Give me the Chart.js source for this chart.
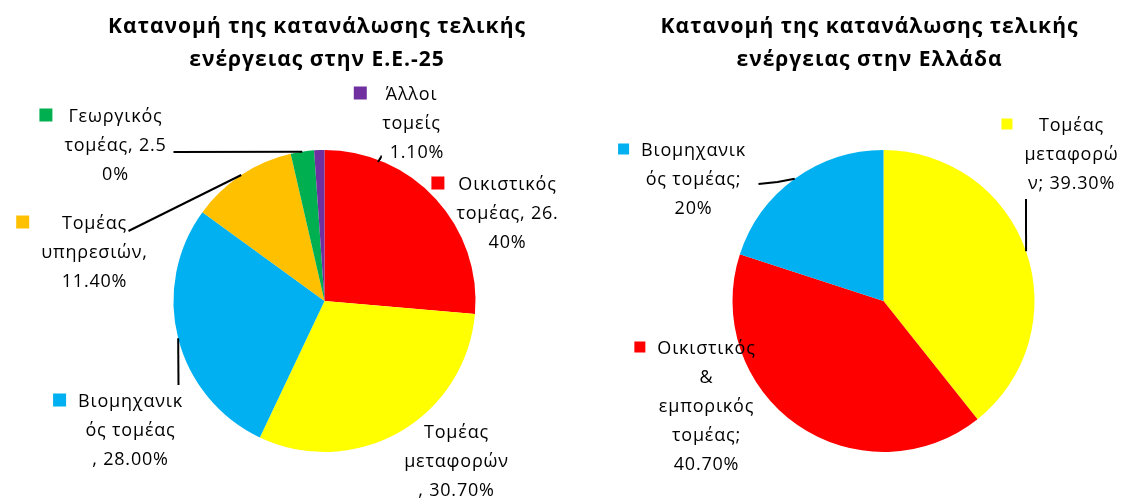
<!DOCTYPE html>
<html>
<head>
<meta charset="utf-8">
<script src="https://cdn.jsdelivr.net/npm/chart.js@4"></script>
<style>
  body { margin: 0; background: #fff; }
  .wrap { position: absolute; top: 0; width: 563px; height: 499px; }
</style>
</head>
<body>
<div class="wrap" style="left:0"><canvas id="chartEU" width="563" height="499"></canvas></div>
<div class="wrap" style="left:563px"><canvas id="chartGR" width="563" height="499"></canvas></div>
<script>
// ΕΕ-25
const categoriesEU = ['Οικιστικός τομέας', 'Τομέας μεταφορών', 'Βιομηχανικός τομέας', 'Τομέας υπηρεσιών', 'Γεωργικός τομέας', 'Άλλοι τομείς'];
const valuesEU = [26.4, 30.7, 28.0, 11.4, 2.5, 1.1];
const colorsEU = ['#FF0000', '#FFFF00', '#00B0F0', '#FFC000', '#00B050', '#7030A0'];
const labelsEU = [
  ['Οικιστικός', 'τομέας, 26.', '40%'],
  ['Τομέας', 'μεταφορών', ', 30.70%'],
  ['Βιομηχανικ', 'ός τομέας', ', 28.00%'],
  ['Τομέας', 'υπηρεσιών,', '11.40%'],
  ['Γεωργικός', 'τομέας, 2.5', '0%'],
  ['Άλλοι', 'τομείς', ', 1.10%']
];

// Ελλάδα
const categoriesGR = ['Τομέας μεταφορών', 'Οικιστικός & εμπορικός τομέας', 'Βιομηχανικός τομέας'];
const valuesGR = [39.3, 40.7, 20];
const colorsGR = ['#FFFF00', '#FF0000', '#00B0F0'];
const labelsGR = [
  ['Τομέας', 'μεταφορώ', 'ν; 39.30%'],
  ['Οικιστικός', '&', 'εμπορικός', 'τομέας;', '40.70%'],
  ['Βιομηχανικ', 'ός τομέας;', '20%']
];

const titleEU = ['Κατανομή της κατανάλωσης τελικής', 'ενέργειας στην Ε.Ε.-25'];
const titleGR = ['Κατανομή της κατανάλωσης τελικής', 'ενέργειας στην Ελλάδα'];

const FONT = '"Open Sans", "Noto Sans", sans-serif';

// label placement relative to the pie centre
const placeEU = [
  { dx: 183, dy: -116 },
  { dx: 132, dy: 132, square: false },
  { dx: -194, dy: 101, fromArc: true, leader: [[-146, 84]] },
  { dx: -230, dy: -77, fromArc: true, leader: [[-196, -70]] },
  { dx: -209, dy: -184, fromArc: true, leader: [[-151, -149]] },
  { dx: 87, dy: -206, leader: [[53.5, -139], [56.5, -144]] }
];
const placeGR = [
  { dx: 188, dy: -175, fromArc: true, leader: [[142.5, -102]] },
  { dx: -177, dy: 48 },
  { dx: -190, dy: -150, fromArc: true, leader: [[-106, -119], [-125, -117]] }
];

const pieLabels = {
  id: 'pieLabels',
  afterDatasetsDraw(chart, args, opts) {
    const ctx = chart.ctx;
    const meta = chart.getDatasetMeta(0);
    const colors = chart.data.datasets[0].backgroundColor;
    const sq = opts.square;
    opts.place.forEach((p, i) => {
      const arc = meta.data[i];
      const cx = arc.x, cy = arc.y;
      const mid = (arc.startAngle + arc.endAngle) / 2;
      const r = arc.outerRadius;
      ctx.save();
      if (p.leader) {
        ctx.strokeStyle = '#000';
        ctx.lineWidth = 2;
        ctx.beginPath();
        let pts = p.leader;
        if (p.fromArc) {
          ctx.moveTo(cx + r * Math.cos(mid), cy + r * Math.sin(mid));
        } else {
          ctx.moveTo(cx + pts[0][0], cy + pts[0][1]);
          pts = pts.slice(1);
        }
        pts.forEach(q => ctx.lineTo(cx + q[0], cy + q[1]));
        ctx.stroke();
      }
      ctx.font = '18px ' + FONT;
      ctx.letterSpacing = '0.8px';
      ctx.fillStyle = '#000';
      ctx.textAlign = 'center';
      ctx.textBaseline = 'middle';
      const lines = opts.lines[i];
      const w = Math.max(...lines.map(l => ctx.measureText(l).width));
      const bx = cx + p.dx, by = cy + p.dy;
      lines.forEach((l, k) => ctx.fillText(l, bx, by + k * 29));
      if (p.square !== false) {
        ctx.fillStyle = colors[i];
        ctx.fillRect(bx - w / 2 - 12 - sq, by - 2 - sq / 2, sq, sq);
      }
      ctx.restore();
    });
  }
};

const titleDraw = {
  id: 'titleDraw',
  afterDraw(chart, args, opts) {
    const ctx = chart.ctx;
    ctx.save();
    ctx.font = 'bold 21px ' + FONT;
    ctx.letterSpacing = '1px';
    ctx.fillStyle = '#000';
    ctx.textAlign = 'center';
    ctx.textBaseline = 'middle';
    opts.text.forEach((t, k) => ctx.fillText(t, opts.x, 27 + k * 33));
    ctx.restore();
  }
};

function makePie(id, cats, vals, cols, lines, place, title, titleX, pad, sq) {
  return new Chart(document.getElementById(id), {
    type: 'pie',
    data: {
      labels: cats,
      datasets: [{ data: vals, backgroundColor: cols, borderWidth: 0 }]
    },
    options: {
      responsive: false,
      animation: false,
      layout: { padding: pad },
      plugins: {
        legend: { display: false },
        tooltip: { enabled: false },
        pieLabels: { place: place, lines: lines, square: sq },
        titleDraw: { text: title, x: titleX }
      }
    },
    plugins: [pieLabels, titleDraw]
  });
}

makePie('chartEU', categoriesEU, valuesEU, colorsEU, labelsEU, placeEU, titleEU, 317,
  { left: 173.5, right: 87.5, top: 150, bottom: 47 }, 13);
makePie('chartGR', categoriesGR, valuesGR, colorsGR, labelsGR, placeGR, titleGR, 306.5,
  { left: 169.5, right: 91.5, top: 150, bottom: 47 }, 11);
</script>
</body>
</html>
